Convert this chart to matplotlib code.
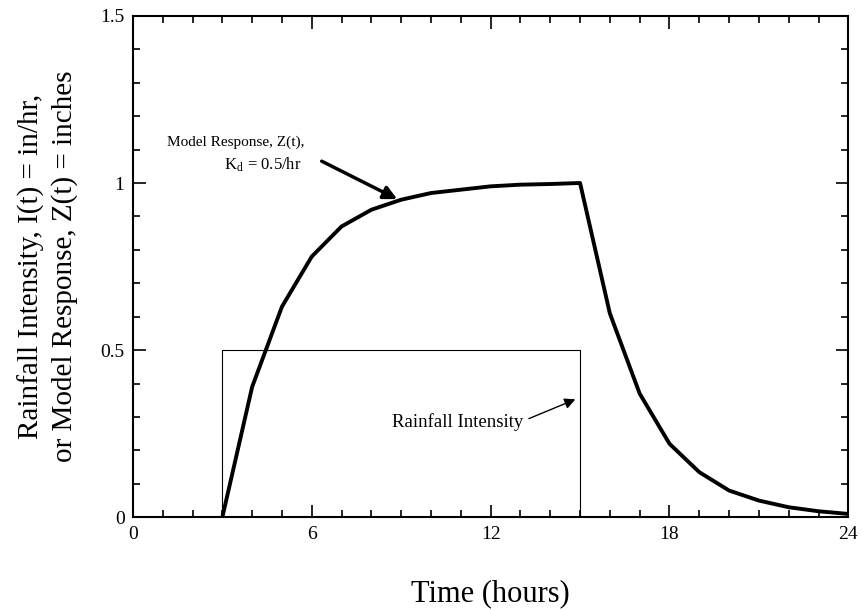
import numpy as np
import matplotlib
matplotlib.use("Agg")
import matplotlib.pyplot as plt
from matplotlib.ticker import MultipleLocator

plt.rcParams['font.family'] = ['Liberation Serif', 'DejaVu Serif']
plt.rcParams['mathtext.fontset'] = 'stix'

# model response Z(t) (hourly)
t_hours = [3, 4, 5, 6, 7, 8, 9, 10, 11, 12, 13, 14, 15,
           16, 17, 18, 19, 20, 21, 22, 23, 24]
z_resp = [0.0, 0.39, 0.63, 0.78, 0.87, 0.92, 0.95, 0.97, 0.98, 0.99, 0.995, 0.997, 1.0,
          0.61, 0.37, 0.22, 0.135, 0.08, 0.05, 0.03, 0.018, 0.01]

# rainfall intensity pulse
rain_t = [3, 3, 15, 15]
rain_i = [0, 0.5, 0.5, 0]

x_ticks = [0, 6, 12, 18, 24]
y_ticks = [0, 0.5, 1, 1.5]
y_labels = ['0', '0.5', '1', '1.5']

fig = plt.figure(figsize=(8.63, 6.10), dpi=100)
ax = fig.add_axes([0.154, 0.152, 0.829, 0.822])

ax.plot(rain_t, rain_i, color='black', lw=0.8)
ax.plot(t_hours, z_resp, color='black', lw=2.8, solid_joinstyle='round')

ax.set_xlim(0, 24)
ax.set_ylim(0, 1.5)
ax.set_xticks(x_ticks)
ax.set_yticks(y_ticks)
ax.set_yticklabels(y_labels)
ax.xaxis.set_minor_locator(MultipleLocator(1))
ax.yaxis.set_minor_locator(MultipleLocator(0.1))
ax.tick_params(which='both', direction='in', top=True, right=True, labelsize=14, width=1.2)
ax.tick_params(which='major', length=9, pad=6)
ax.tick_params(which='minor', length=5)
for s in ax.spines.values():
    s.set_linewidth(1.5)

ax.set_xlabel('Time (hours)', fontsize=22, labelpad=26)
ax.set_ylabel('Rainfall Intensity, I(t) = in/hr,\nor Model Response, Z(t) = inches',
              fontsize=21, labelpad=16, linespacing=1.3)

ax.text(3.45, 1.123, 'Model Response, Z(t),', fontsize=11, ha='center', va='center')
ax.text(4.35, 1.054, r'K$_\mathregular{d}$ = 0.5/hr', fontsize=12, ha='center', va='center')
ax.annotate('', xy=(8.95, 0.948), xytext=(6.25, 1.069),
            arrowprops=dict(arrowstyle='-|>', color='black', lw=2.5, mutation_scale=20))

ax.text(10.9, 0.284, 'Rainfall Intensity', fontsize=13.5, ha='center', va='center')
ax.annotate('', xy=(14.93, 0.356), xytext=(13.2, 0.292),
            arrowprops=dict(arrowstyle='-|>', color='black', lw=1, mutation_scale=16))

fig.savefig('out.png', dpi=100)
